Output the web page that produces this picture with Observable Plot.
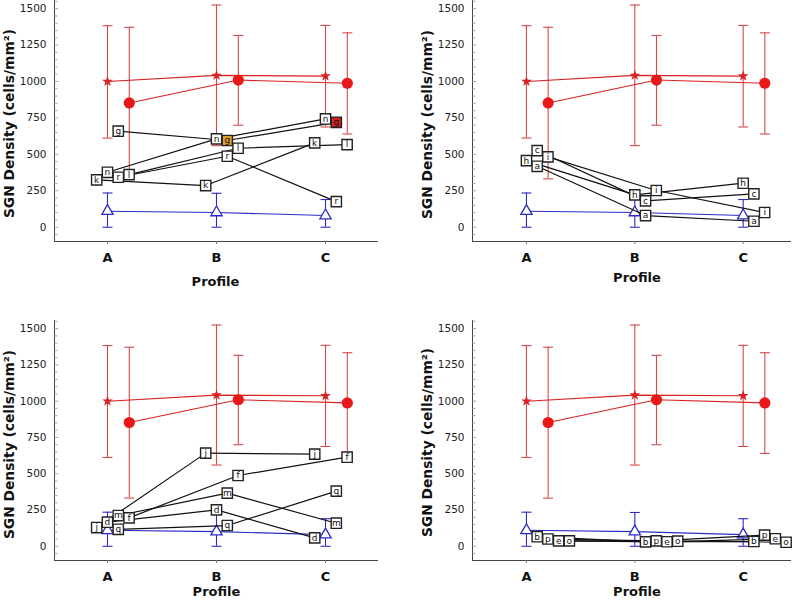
<!DOCTYPE html>
<html><head><meta charset="utf-8">
<script src="https://cdn.jsdelivr.net/npm/d3@7"></script>
<script src="https://cdn.jsdelivr.net/npm/@observablehq/plot@0.6"></script>
<style>
body{margin:0;background:#fff;}
#wrap{position:relative;width:798px;height:601px;overflow:hidden;}
.panel{position:absolute;}
</style></head><body><div id="wrap"></div>
<script>
// ---------- data ----------
const profiles = ["A", "B", "C"];
const yTickValues = [0, 250, 500, 750, 1000, 1250, 1500];
const yLabel = "SGN Density (cells/mm²)";
const xLabel = "Profile";

// reference groups (mean, lower, upper) at A, B, C
const starMean = [1000, 1042, 1037];
const starLow = [612, 560, 688];
const starHigh = [1383, 1525, 1385];
const circleMean = [853, 1010, 988];
const circleLow = [332, 700, 640];
const circleHigh = [1372, 1316, 1334];
const triMean = [110, 101, 80];
const triLow = [0, 0, 0];
const triHigh = [235, 233, 190];

// individual cases per panel (values at A, B, C)
const panel1Ids = ["g", "n", "r", "l", "k"];
const panel1Values = [[659, 595, 720], [377, 606, 743], [343, 487, 176], [361, 542, 567], [325, 286, 579]];
const panel2Ids = ["h", "c", "a", "i"];
const panel2Values = [[457, 222, 302], [526, 181, 229], [418, 80, 41], [483, 252, 101]];
const panel3Ids = ["j", "d", "m", "f", "q"];
const panel3Values = [[129, 642, 635], [166, 251, 58], [212, 366, 159], [196, 488, 614], [117, 143, 380]];
const panel4Ids = ["b", "p", "e", "o"];
const panel4Values = [[66, 30, 33], [50, 37, 77], [37, 31, 52], [37, 35, 28]];

// highlighted case points [id, profile, kind]
const highlighted = [["g", "B", "orange"], ["g", "C", "red"]];

// ---------- style ----------
const RED = "#d82222", RED_BAR = "#d44a4a", BLUE = "#2b2bc4", BLACK = "#111";
const highlightFill = {orange: "#e39b2d", red: "#d42020"};
// horizontal dodge slots for case markers (style only)
const slotOf = {g: 1, n: 0, r: 1, l: 2, k: -1, h: 0, c: 1, a: 1, i: 2, j: -1, d: 0, m: 1, f: 2, q: 1, b: 1, p: 2, e: 3, o: 4};
const slotOverride = {"d|C": -1};
const SLOT = 0.099, CIRCLE_SHIFT = 0.2;
const Y_DOMAIN = [-98, 1556];

const capSymbol = {draw(ctx, size) { const w = Math.sqrt(size / Math.PI); ctx.moveTo(-w, 0); ctx.lineTo(w, 0); }};
const tickRight = {draw(ctx, size) { const w = Math.sqrt(size / Math.PI); ctx.moveTo(0, 0); ctx.lineTo(w, 0); }};

function rows(mean, lo, hi, shift) {
  return profiles.map((p, i) => ({p, x: i + shift, v: mean[i], lo: lo[i], hi: hi[i]}));
}

function makePanel(cfg) {
  const {ids, values, left, top, width, height, mL, mR, mT, mB, xDomain, yDx, yDy, pDx, pDy} = cfg;
  const stars = rows(starMean, starLow, starHigh, 0);
  const circles = rows(circleMean, circleLow, circleHigh, CIRCLE_SHIFT);
  const tris = rows(triMean, triLow, triHigh, 0);
  const cases = ids.flatMap((id, k) => profiles.map((p, i) => {
    const key = id + "|" + p;
    const slot = key in slotOverride ? slotOverride[key] : slotOf[id];
    const h = highlighted.find(([hid, hp]) => hid === id && hp === p);
    return {id, p, x: i + slot * SLOT, v: values[k][i], fill: h ? highlightFill[h[2]] : "white"};
  }));
  const minorTicks = d3.range(-50, 1551, 50);

  const errMarks = (data, color) => [
    Plot.ruleX(data, {x: "x", y1: "lo", y2: "hi", stroke: color, strokeWidth: 1.1}),
    Plot.dot(data, {x: "x", y: "lo", symbol: capSymbol, r: 5, stroke: color, fill: "none", strokeWidth: 1.1}),
    Plot.dot(data, {x: "x", y: "hi", symbol: capSymbol, r: 5, stroke: color, fill: "none", strokeWidth: 1.1})
  ];

  const chart = Plot.plot({
    width, height, marginLeft: mL, marginRight: mR, marginTop: mT, marginBottom: mB,
    x: {type: "linear", domain: xDomain, axis: null},
    y: {domain: Y_DOMAIN, axis: null},
    color: {type: "identity"},
    style: {fontFamily: "DejaVu Sans, sans-serif", background: "transparent", overflow: "visible"},
    marks: [
      // axes lines
      Plot.ruleX([xDomain[0]], {stroke: "#444", strokeWidth: 1}),
      Plot.ruleY([Y_DOMAIN[0]], {stroke: "#444", strokeWidth: 1}),
      Plot.dot(minorTicks, {x: xDomain[0], y: d => d, symbol: tickRight, r: d => d % 250 === 0 ? 3 : 1.9, stroke: "#aaa", fill: "none", strokeWidth: 1}),
      Plot.axisY(yTickValues, {tickSize: 0, tickPadding: 8, tickFormat: d => String(d), fontSize: 10.5, fill: "#222", label: null}),
      Plot.axisX([0, 1, 2], {tickFormat: i => profiles[i], tickSize: 3, tickPadding: 8, fontSize: 13, fontWeight: "bold", fill: "#111", stroke: "#777", label: null}),
      Plot.text([yLabel], {text: d => d, frameAnchor: "left", textAnchor: "middle", rotate: -90, dx: yDx, dy: yDy, fontSize: 13.8, fontWeight: "bold", fill: "#111"}),
      Plot.text([xLabel], {text: d => d, frameAnchor: "bottom", textAnchor: "middle", dx: pDx, dy: pDy, fontSize: 13, fontWeight: "bold", fill: "#111"}),
      // reference groups
      ...errMarks(stars, RED_BAR),
      ...errMarks(circles, RED_BAR),
      ...errMarks(tris, BLUE),
      Plot.line(stars, {x: "x", y: "v", stroke: RED, strokeWidth: 1.1}),
      Plot.line(circles, {x: "x", y: "v", stroke: RED, strokeWidth: 1.1}),
      Plot.line(tris, {x: "x", y: "v", stroke: BLUE, strokeWidth: 1.1}),
      Plot.dot(stars, {x: "x", y: "v", symbol: "star", r: 3.4, fill: RED, stroke: "none"}),
      Plot.dot(circles, {x: "x", y: "v", r: 5.6, fill: "#e81818", stroke: "none"}),
      Plot.dot(tris, {x: "x", y: "v", symbol: "triangle", r: 4.2, fill: "white", stroke: BLUE, strokeWidth: 1.3}),
      // individual cases
      Plot.line(cases, {x: "x", y: "v", z: "id", stroke: BLACK, strokeWidth: 1.2}),
      Plot.dot(cases, {x: "x", y: "v", symbol: "square", r: 5.8, fill: "fill", stroke: "#222", strokeWidth: 1.4}),
      Plot.text(cases, {x: "x", y: "v", text: "id", fontSize: 9, fill: "#111"})
    ]
  });
  chart.classList.add("panel");
  chart.style.left = left + "px";
  chart.style.top = top + "px";
  document.getElementById("wrap").appendChild(chart);
}

makePanel({ids: panel1Ids, values: panel1Values, left: 0, top: 0, width: 399, height: 300,
  mL: 54, mR: 21, mT: 0, mB: 59, xDomain: [-0.486, 2.486], yDx: -45, yDy: 2.5, pDx: -1, pDy: 44});
makePanel({ids: panel2Ids, values: panel2Values, left: 400, top: 0, width: 398, height: 300,
  mL: 72, mR: 7, mT: 0, mB: 59, xDomain: [-0.498, 2.446], yDx: -44.5, yDy: 3.5, pDx: 5, pDy: 40});
makePanel({ids: panel3Ids, values: panel3Values, left: 0, top: 300, width: 399, height: 301,
  mL: 54, mR: 21, mT: 20, mB: 41, xDomain: [-0.486, 2.486], yDx: -45, yDy: 4, pDx: 0, pDy: 35});
makePanel({ids: panel4Ids, values: panel4Values, left: 400, top: 300, width: 398, height: 301,
  mL: 72, mR: 7, mT: 20, mB: 41, xDomain: [-0.498, 2.446], yDx: -44.5, yDy: 2, pDx: 5, pDy: 35});
</script>
</body></html>
